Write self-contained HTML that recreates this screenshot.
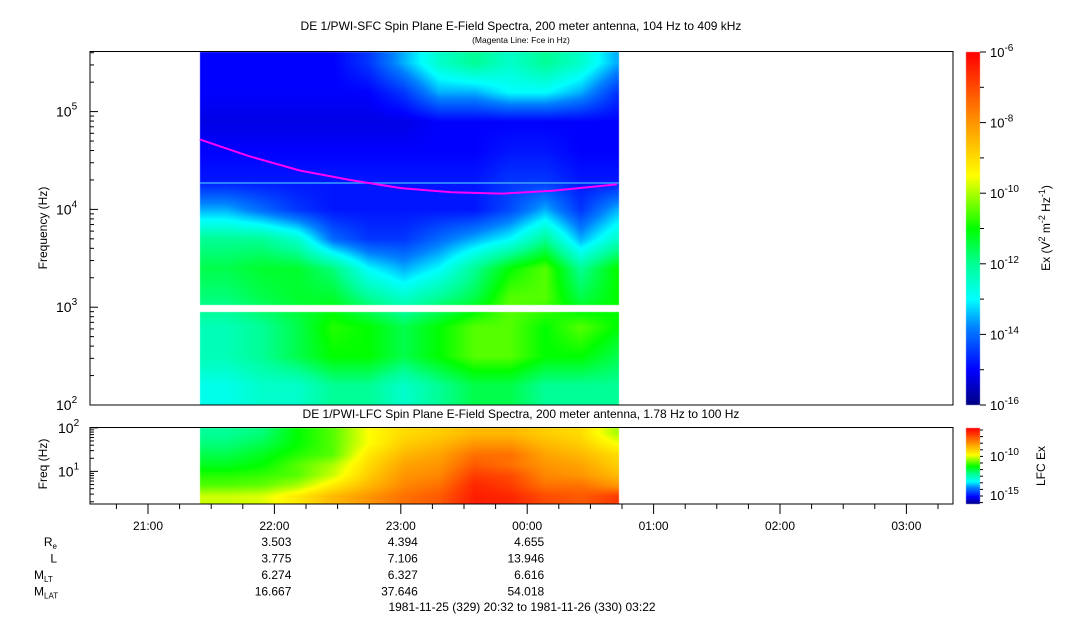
<!DOCTYPE html>
<html><head><meta charset="utf-8"><style>
body{margin:0;background:#fff;width:1083px;height:620px;overflow:hidden;position:relative;font-family:"Liberation Sans",sans-serif;color:#000}
canvas,svg{position:absolute;left:0;top:0}
</style></head><body>
<canvas id="cv" width="1083" height="620"></canvas>
<svg id="sv" width="1083" height="620"></svg>
<script>
// ---- data ----
const timeBins=[21.62,21.9,22.18,22.46,22.74,23.02,23.3,23.58,23.86,24.14,24.42,24.7]; // bin centers (hours)
const sfcFreqLog=[5.5,5.2,4.9,4.6,4.3,4.0,3.7,3.4,3.1,2.8,2.5,2.2];
const sfcPower=[
[-15,-15,-15,-15,-14.5,-13.5,-12.5,-12,-12.5,-12,-12.5,-13.5],
[-15,-15,-15,-15,-15,-14.5,-13.5,-13.5,-13,-13,-13.5,-14.5],
[-15.2,-15.2,-15.2,-15.2,-15.2,-15.2,-15,-15,-15,-15,-15,-15],
[-15,-15,-15,-15,-15,-15,-15,-15,-14.8,-14.8,-15,-15],
[-14.8,-14.8,-14.8,-14.8,-14.8,-14.8,-14.8,-14.8,-14.5,-14.5,-14.8,-14.8],
[-13.5,-14,-14.5,-14.8,-14.8,-14.8,-14.8,-14.8,-14.3,-13.5,-14.5,-13.5],
[-12,-12,-12.5,-14,-14.5,-14.5,-14,-13.5,-13,-12,-13.5,-12.5],
[-11.5,-11.3,-11.3,-11.8,-13,-13.5,-13,-12,-11,-10.5,-12,-11],
[-11.8,-11.5,-11.3,-11.3,-12,-12.5,-12,-11.5,-10.5,-10.5,-11.5,-11],
[-12.3,-12,-11.5,-10.8,-11,-11.5,-11,-10.5,-10.5,-11,-10.5,-11],
[-12.3,-12,-11.5,-11,-11,-11.5,-11,-10.5,-10.5,-11,-11,-11.5],
[-12.8,-12.5,-12.5,-12,-12,-12.5,-12,-11.5,-11.5,-12,-12,-12]];
const lfcFreqLog=[1.88,1.64,1.40,1.16,0.92,0.68,0.44];
const lfcLevel=[
[0.40,0.42,0.5,0.55,0.65,0.7,0.72,0.75,0.75,0.72,0.7,0.6],
[0.42,0.45,0.5,0.55,0.65,0.72,0.75,0.8,0.8,0.75,0.72,0.65],
[0.45,0.48,0.52,0.55,0.68,0.75,0.78,0.85,0.85,0.78,0.75,0.7],
[0.48,0.5,0.55,0.6,0.7,0.78,0.8,0.88,0.85,0.8,0.78,0.72],
[0.52,0.53,0.55,0.62,0.72,0.8,0.82,0.92,0.9,0.82,0.8,0.75],
[0.55,0.56,0.6,0.68,0.75,0.82,0.85,0.95,0.92,0.85,0.85,0.8],
[0.62,0.63,0.68,0.75,0.8,0.85,0.88,0.96,0.95,0.9,0.88,0.92]];
const fceHours=[21.41,21.8,22.2,22.6,23.0,23.4,23.8,24.2,24.71];
const fceHz=[52000,35000,25000,20000,16500,15000,14500,15500,18000];
const hourTicks=["21:00","22:00","23:00","00:00","01:00","02:00","03:00"];
const ephRows=["Re","L","MLT","MLAT"];
const ephValues=[["3.503","4.394","4.655"],["3.775","7.106","13.946"],["6.274","6.327","6.616"],["16.667","37.646","54.018"]];
const cbarExps=[-6,-8,-10,-12,-14,-16];
// ---- axes ----
const X=h=>148+(h-21)*126.4;
const dataX0=200,dataX1=619;
const YU=l=>405-(l-2)*97.8;
const YL=l=>504-(l-0.25)*43.5;
const pn=p=>(p+16)/10;
const stops=[[0,[0,0,128]],[0.1,[0,0,255]],[0.22,[0,128,255]],[0.3,[0,255,255]],[0.4,[0,255,150]],[0.5,[0,255,0]],[0.6,[170,255,0]],[0.65,[255,255,0]],[0.8,[255,150,0]],[1,[255,0,0]]];
function cmap(v){v=Math.max(0,Math.min(1,v));for(let i=1;i<stops.length;i++){if(v<=stops[i][0]){const a=stops[i-1],b=stops[i],t=(v-a[0])/(b[0]-a[0]);return a[1].map((c,k)=>Math.round(c+(b[1][k]-c)*t));}}return stops[stops.length-1][1];}
function interp(xs,x){if(x<=xs[0])return 0;if(x>=xs[xs.length-1])return xs.length-1;for(let i=1;i<xs.length;i++)if(x<=xs[i])return i-1+(x-xs[i-1])/(xs[i]-xs[i-1]);}
function sample(grid,ti,fi){const i0=Math.floor(ti),i1=Math.min(i0+1,grid[0].length-1),j0=Math.floor(fi),j1=Math.min(j0+1,grid.length-1),a=ti-i0,b=fi-j0;
return (grid[j0][i0]*(1-a)+grid[j0][i1]*a)*(1-b)+(grid[j1][i0]*(1-a)+grid[j1][i1]*a)*b;}
const ctx=document.getElementById('cv').getContext('2d');
const img=ctx.createImageData(1083,620);
function put(x,y,c){const o=(y*1083+x)*4;img.data[o]=c[0];img.data[o+1]=c[1];img.data[o+2]=c[2];img.data[o+3]=255;}
const tRev=sfcFreqLog.slice().reverse();
const lr=lfcFreqLog.slice().reverse();
for(let x=dataX0;x<dataX1;x++){const h=21+(x-148)/126.4;const ti=interp(timeBins,h);
 for(let y=52;y<405;y++){if(y>=305&&y<312)continue;const l=2+(405-y)/97.8;
  const fi=sfcFreqLog.length-1-interp(tRev,l);put(x,y,cmap(pn(sample(sfcPower,ti,fi))));}
 for(let y=428;y<504;y++){const l=0.25+(504-y)/43.5;const fi=lfcFreqLog.length-1-interp(lr,l);put(x,y,cmap(sample(lfcLevel,ti,fi)));}}
for(let y=52;y<405;y++)for(let x=966;x<980;x++)put(x,y,cmap((405-y)/353));
for(let y=428;y<504;y++)for(let x=966;x<980;x++)put(x,y,cmap((504-y)/76));
ctx.putImageData(img,0,0);
// ---- svg ----
const NS='http://www.w3.org/2000/svg',sv=document.getElementById('sv');
function el(t,a,txt){const e=document.createElementNS(NS,t);for(const k in a)e.setAttribute(k,a[k]);if(txt!==undefined)e.textContent=txt;sv.appendChild(e);return e;}
let e=el('line',{x1:dataX0,x2:dataX1,y1:183,y2:183,stroke:'#3aa0ff','stroke-width':1.5});


let d=fceHours.map((h,i)=>(i?'L':'M')+X(h).toFixed(1)+','+YU(Math.log10(fceHz[i])).toFixed(1)).join(' ');
e=el('path',{d:d,fill:'none',stroke:'#ff00ff','stroke-width':2});


e=el('rect',{x:90,y:51.5,width:863,height:353.5,fill:'none',stroke:'#000'});


e=el('rect',{x:90,y:427.5,width:863,height:76.5,fill:'none',stroke:'#000'});


for(let dec=2;dec<=5;dec++){for(let m=1;m<10;m++){const l=dec+Math.log10(m);if(l>5.61)break;const y=YU(l);el('line',{x1:90,x2:m==1?98:94,y1:y,y2:y,stroke:'#000'});}
 e=el('text',{x:56,y:YU(dec)+5,'font-size':14});e.innerHTML='10<tspan dy="-7" font-size="10">'+dec+'</tspan>';
 
 }
for(let dec=0;dec<=2;dec++)for(let m=1;m<10;m++){const l=dec+Math.log10(m);if(l<0.25||l>2.01)continue;const y=YL(l);el('line',{x1:90,x2:m==1?98:94,y1:y,y2:y,stroke:'#000'});}
[1,2].forEach(dec=>{e=el('text',{x:58,y:YL(dec)+5,'font-size':14});e.innerHTML='10<tspan dy="-7" font-size="10">'+dec+'</tspan>';
 
 });
e=el('text',{x:0,y:0,'font-size':12,'text-anchor':'middle',transform:'translate(47,228) rotate(-90)'},'Frequency (Hz)');


e=el('text',{x:0,y:0,'font-size':12,'text-anchor':'middle',transform:'translate(47,464) rotate(-90)'},'Freq (Hz)');


for(let q=0;q<=28;q++){const h=20.5+q*0.25;const x=X(h);if(x<91||x>952)continue;const maj=q%4==2;el('line',{x1:x,x2:x,y1:504,y2:maj?514:509,stroke:'#000'});}
hourTicks.forEach((t,i)=>{e=el('text',{x:X(21+i),y:530,'font-size':12,'text-anchor':'middle'},t);
 
 });
const labHTML=['R<tspan font-size="8" dy="3">e</tspan>','L','M<tspan font-size="8" dy="3">LT</tspan>','M<tspan font-size="8" dy="3">LAT</tspan>'];
ephRows.forEach((r,i)=>{const y=546+i*16.5;e=el('text',{x:i<2?57:34,y:y,'font-size':12,'text-anchor':i>1?'start':'end'});e.innerHTML=labHTML[i];
 
 
 ephValues[i].forEach((v,j)=>{e=el('text',{x:X(22+j)+17,y:y,'font-size':12,'text-anchor':'end'},v);
  
  });});
e=el('text',{x:522,y:611,'font-size':12,'text-anchor':'middle'},'1981-11-25 (329) 20:32 to 1981-11-26 (330) 03:22');


e=el('text',{x:521,y:30,'font-size':12,'text-anchor':'middle'},'DE 1/PWI-SFC  Spin Plane E-Field Spectra, 200 meter antenna, 104 Hz to 409 kHz');


e=el('text',{x:521,y:43,'font-size':8.5,'text-anchor':'middle'},'(Magenta Line: Fce in Hz)');


e=el('text',{x:521,y:418,'font-size':12,'text-anchor':'middle'},'DE 1/PWI-LFC  Spin Plane E-Field Spectra, 200 meter antenna, 1.78 Hz to 100 Hz');


cbarExps.forEach((p,i)=>{const y=52+i*70.6;el('line',{x1:980,x2:986,y1:y,y2:y,stroke:'#000'});if(i<5)el('line',{x1:980,x2:984,y1:y+35.3,y2:y+35.3,stroke:'#000'});
 e=el('text',{x:990,y:y+5,'font-size':13});e.innerHTML='10<tspan dy="-6" font-size="10">'+p+'</tspan>';
 
 });
e=el('text',{x:0,y:0,'font-size':12,'text-anchor':'middle',transform:'translate(1050,228) rotate(-90)'});
e.innerHTML='Ex (V<tspan dy="-5" font-size="9">2</tspan><tspan dy="5"> m</tspan><tspan dy="-5" font-size="9">-2</tspan><tspan dy="5"> Hz</tspan><tspan dy="-5" font-size="9">-1</tspan><tspan dy="5">)</tspan>';


for(let k=0;k<12;k++){const y=430+k*6.6;el('line',{x1:980,x2:983,y1:y,y2:y,stroke:'#000'});}
[[-10,456],[-15,495]].forEach(a=>{e=el('text',{x:990,y:a[1]+5,'font-size':13});e.innerHTML='10<tspan dy="-6" font-size="10">'+a[0]+'</tspan>';
 
 });
e=el('text',{x:0,y:0,'font-size':12,'text-anchor':'middle',transform:'translate(1045,466) rotate(-90)'},'LFC Ex');


</script>
</body></html>
